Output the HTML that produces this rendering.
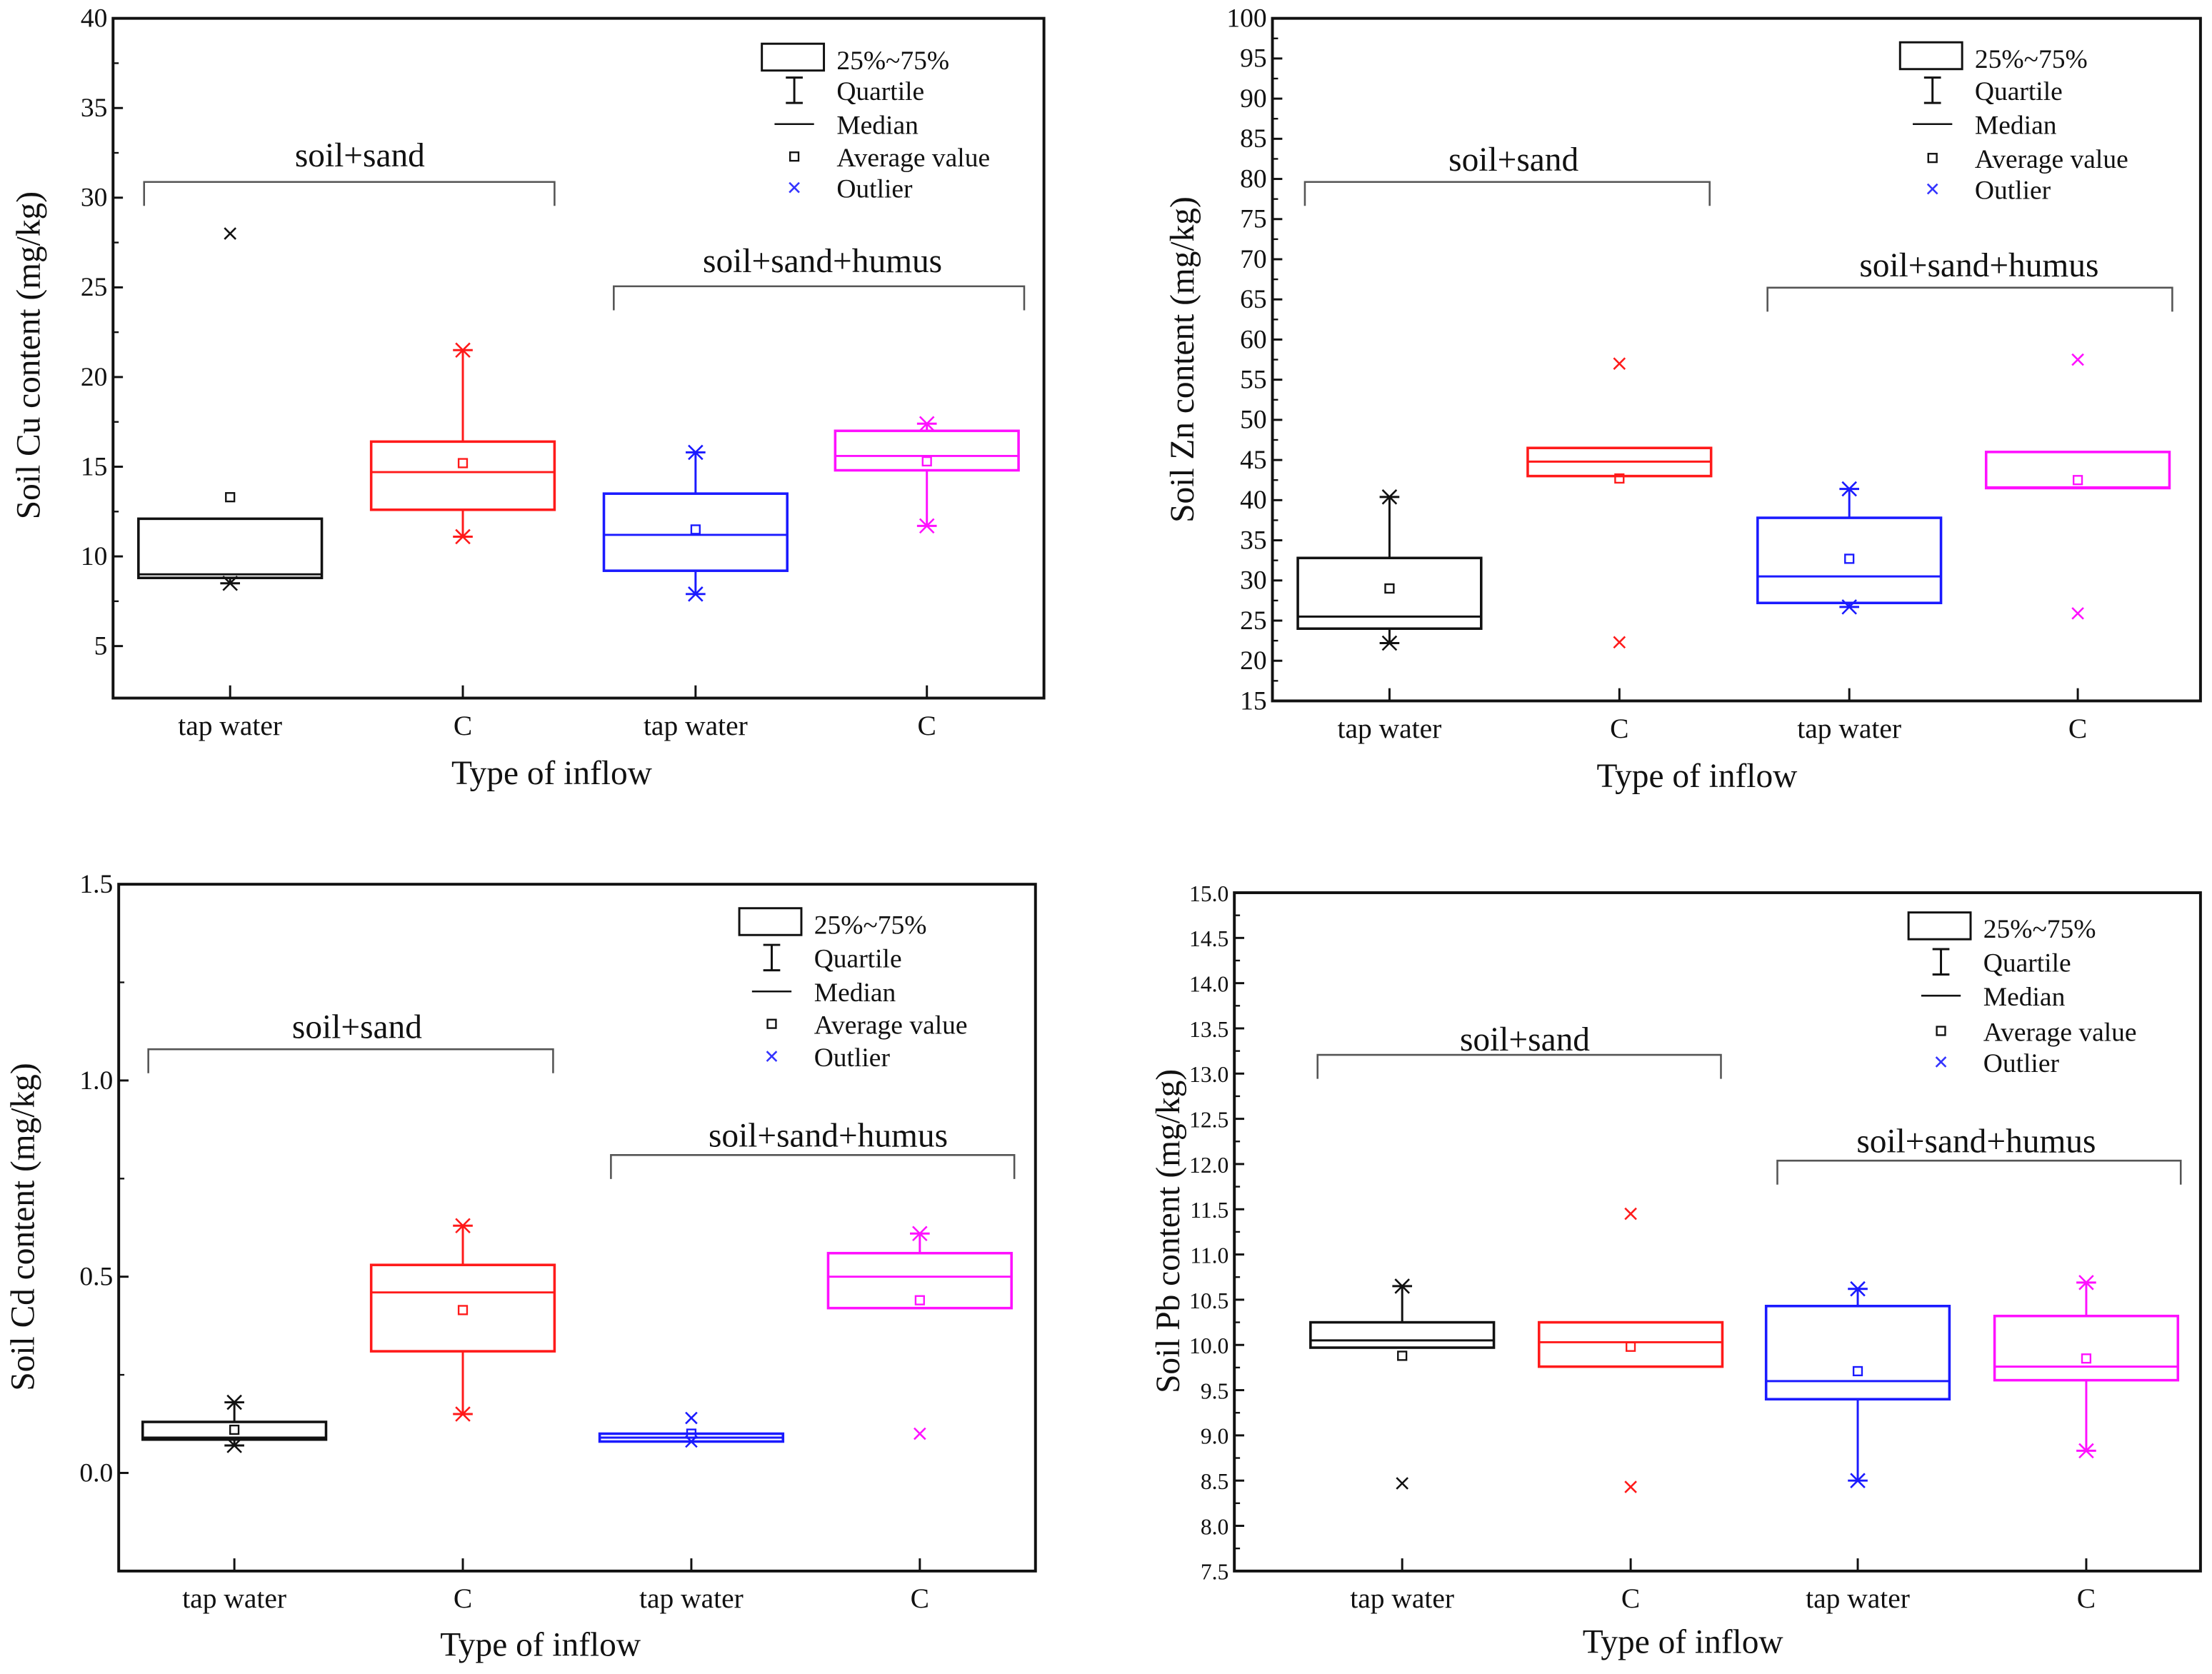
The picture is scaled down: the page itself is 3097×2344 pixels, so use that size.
<!DOCTYPE html>
<html><head><meta charset="utf-8"><style>
html,body{margin:0;padding:0;background:#fff}
svg{display:block}
text{font-family:"Liberation Serif",serif;fill:#111}
</style></head><body>
<svg id="fig" width="3097" height="2344" viewBox="0 0 1568 1187" xmlns="http://www.w3.org/2000/svg"></svg>
<script>
const categories=["tap water","C","tap water","C"];
const colors=["#111","#ff1a1a","#1a1aff","#ff10ff"];

const cuQ1=[8.8,12.6,9.2,14.8], cuQ3=[12.1,16.4,13.5,17.0], cuMed=[9.0,14.7,11.2,15.6], cuMean=[13.3,15.2,11.5,15.3];
const cuLo=[8.5,11.1,7.9,11.7], cuHi=[null,21.5,15.8,17.4], cuOut=[[28],[],[],[]];
const cuTicks=[5,10,15,20,25,30,35,40];

const znQ1=[24,43,27.2,41.5], znQ3=[32.8,46.5,37.8,46], znMed=[25.5,44.8,30.5,41.6], znMean=[29,42.7,32.7,42.5];
const znLo=[22.2,null,26.7,null], znHi=[40.4,null,41.4,null], znOut=[[],[57,22.3],[],[57.5,25.9]];
const znTicks=[15,20,25,30,35,40,45,50,55,60,65,70,75,80,85,90,95,100];

const cdQ1=[0.085,0.31,0.08,0.42], cdQ3=[0.13,0.53,0.10,0.56], cdMed=[0.09,0.46,0.09,0.50], cdMean=[0.11,0.415,0.10,0.44];
const cdLo=[0.07,0.15,null,null], cdHi=[0.18,0.63,null,0.61], cdOut=[[],[],[0.08,0.14],[0.10]];
const cdTicks=[0.0,0.5,1.0,1.5];

const pbQ1=[9.97,9.76,9.4,9.61], pbQ3=[10.25,10.25,10.43,10.32], pbMed=[10.05,10.03,9.6,9.76], pbMean=[9.88,9.98,9.71,9.85];
const pbLo=[null,null,8.5,8.83], pbHi=[10.65,null,10.62,10.69], pbOut=[[8.47],[11.45,8.43],[],[]];
const pbTicks=[7.5,8.0,8.5,9.0,9.5,10.0,10.5,11.0,11.5,12.0,12.5,13.0,13.5,14.0,14.5,15.0];

const NS="http://www.w3.org/2000/svg";
const svg=document.getElementById("fig");
function mk(tag,attrs,parent,txt){const e=document.createElementNS(NS,tag);for(const k in attrs)e.setAttribute(k,attrs[k]);if(txt!==undefined)e.textContent=txt;(parent||svg).appendChild(e);return e;}

function panel(p){
  const g=mk("g",{});
  
  
  const y=v=>p.y0+(p.vmax-v)/(p.vmax-p.vmin)*(p.y1-p.y0);
  p.ticks.forEach((t,i)=>{
    const yy=y(t);
    const tk=mk("line",{x1:p.x0,x2:p.x0+7,y1:yy,y2:yy,stroke:"#111","stroke-width":1.5},g);
    
    
    const lb=mk("text",{x:p.x0-4,y:yy+6,"text-anchor":"end","font-size":p.tf||19},g,p.fmt(t));
    
    
    if(i<p.ticks.length-1){const ym=y((t+p.ticks[i+1])/2);mk("line",{x1:p.x0,x2:p.x0+4,y1:ym,y2:ym,stroke:"#111","stroke-width":1.2},g);}
  });
  const ax=mk("rect",{x:p.x0,y:p.y0,width:p.x1-p.x0,height:p.y1-p.y0,fill:"none",stroke:"#111","stroke-width":2},g);
  
  
  const hw=65;
  categories.forEach((c,i)=>{
    const cx=p.cx[i],col=colors[i];
    mk("line",{x1:cx,x2:cx,y1:p.y1,y2:p.y1-9,stroke:"#111","stroke-width":1.5},g);
    const xl=mk("text",{x:cx,y:p.y1+26,"text-anchor":"middle","font-size":20},g,c);
    
    
    const bg=mk("g",{},g);
    
    
    if(p.hi[i]!==null){mk("line",{x1:cx,x2:cx,y1:y(p.q3[i]),y2:y(p.hi[i]),stroke:col,"stroke-width":1.5},bg);mk("line",{x1:cx-7,x2:cx+7,y1:y(p.hi[i]),y2:y(p.hi[i]),stroke:col,"stroke-width":1.5},bg);mark(bg,cx,y(p.hi[i]),col,5);}
    if(p.lo[i]!==null){mk("line",{x1:cx,x2:cx,y1:y(p.q1[i]),y2:y(p.lo[i]),stroke:col,"stroke-width":1.5},bg);mk("line",{x1:cx-7,x2:cx+7,y1:y(p.lo[i]),y2:y(p.lo[i]),stroke:col,"stroke-width":1.5},bg);mark(bg,cx,y(p.lo[i]),col,5);}
    mk("rect",{x:cx-hw,y:y(p.q3[i]),width:2*hw,height:y(p.q1[i])-y(p.q3[i]),fill:"none",stroke:col,"stroke-width":1.8},bg);
    mk("line",{x1:cx-hw,x2:cx+hw,y1:y(p.med[i]),y2:y(p.med[i]),stroke:col,"stroke-width":1.5},bg);
    mk("rect",{x:cx-3,y:y(p.mean[i])-3,width:6,height:6,fill:"none",stroke:col,"stroke-width":1.2},bg);
    p.out[i].forEach(v=>mark(bg,cx,y(v),col,4));
  });
  p.br.forEach(b=>{
    const bk=mk("path",{d:`M${b[0]} ${b[2]+17}V${b[2]}H${b[1]}V${b[2]+17}`,fill:"none",stroke:"#555","stroke-width":1.3},g);
    
    
    const bt=mk("text",{x:b[3],y:b[4],"text-anchor":"middle","font-size":24},g,b[5]);
    
    
  });
  const L=p.leg, lg=mk("g",{},g);
  
  
  const ix=L.x-30;
  mk("rect",{x:L.x-53,y:L.ys[0]-11,width:44,height:19,fill:"none",stroke:"#111","stroke-width":1.5},lg);
  mk("path",{d:`M${ix-6} ${L.ys[1]-9}H${ix+6}M${ix} ${L.ys[1]-9}V${L.ys[1]+9}M${ix-6} ${L.ys[1]+9}H${ix+6}`,stroke:"#111","stroke-width":1.5,fill:"none"},lg);
  mk("line",{x1:ix-14,x2:ix+14,y1:L.ys[2],y2:L.ys[2],stroke:"#111","stroke-width":1.3},lg);
  mk("rect",{x:ix-3,y:L.ys[3]-3,width:6,height:6,fill:"none",stroke:"#111","stroke-width":1.2},lg);
  mark(lg,ix,L.ys[4],"#33f",3.5);
  ["25%~75%","Quartile","Median","Average value","Outlier"].forEach((t,k)=>{
    const lt=mk("text",{x:L.x,y:L.ys[k]+7,"font-size":19},lg,t);
    
    
  });
  const xt=mk("text",{x:p.xt[0],y:p.xt[1],"text-anchor":"middle","font-size":24},g,"Type of inflow");
  
  
  const yt=mk("text",{x:0,y:0,"text-anchor":"middle","font-size":24,transform:`translate(${p.yt[0]},${p.yt[1]}) rotate(-90)`},g,p.ytitle);
  
  
}
function mark(parent,x,y,col,s){
  mk("path",{d:`M${x-s} ${y-s}L${x+s} ${y+s}M${x-s} ${y+s}L${x+s} ${y-s}`,stroke:col,"stroke-width":1.3,fill:"none"},parent);
}
const f0=t=>String(t), f1=t=>t.toFixed(1);
panel({id:"cu",x0:80,x1:740,y0:13,y1:495,vmin:2.1,vmax:40,ticks:cuTicks,fmt:f0,cx:[163,328,493,657],
 q1:cuQ1,q3:cuQ3,med:cuMed,mean:cuMean,lo:cuLo,hi:cuHi,out:cuOut,
 br:[[102,393,129,255,118,"soil+sand"],[435,726,203,583,193,"soil+sand+humus"]],
 leg:{x:593,ys:[42,64,88,111,133]},xt:[391,556],yt:[28,252],ytitle:"Soil Cu content (mg/kg)"});
panel({id:"zn",x0:902,x1:1560,y0:13,y1:497,vmin:15,vmax:100,ticks:znTicks,fmt:f0,cx:[985,1148,1311,1473],
 q1:znQ1,q3:znQ3,med:znMed,mean:znMean,lo:znLo,hi:znHi,out:znOut,
 br:[[925,1212,129,1073,121,"soil+sand"],[1253,1540,204,1403,196,"soil+sand+humus"]],
 leg:{x:1400,ys:[41,64,88,112,134]},xt:[1203,558],yt:[846,255],ytitle:"Soil Zn content (mg/kg)"});
panel({id:"cd",x0:84,x1:734,y0:627,y1:1114,vmin:-0.25,vmax:1.5,ticks:cdTicks,fmt:f1,cx:[166,328,490,652],
 q1:cdQ1,q3:cdQ3,med:cdMed,mean:cdMean,lo:cdLo,hi:cdHi,out:cdOut,
 br:[[105,392,744,253,736,"soil+sand"],[433,719,819,587,813,"soil+sand+humus"]],
 leg:{x:577,ys:[655,679,703,726,749]},xt:[383,1174],yt:[24,870],ytitle:"Soil Cd content (mg/kg)"});
panel({id:"pb",x0:875,x1:1560,y0:633,y1:1114,vmin:7.5,vmax:15,ticks:pbTicks,fmt:f1,tf:16,cx:[994,1156,1317,1479],
 q1:pbQ1,q3:pbQ3,med:pbMed,mean:pbMean,lo:pbLo,hi:pbHi,out:pbOut,
 br:[[934,1220,748,1081,745,"soil+sand"],[1260,1546,823,1401,817,"soil+sand+humus"]],
 leg:{x:1406,ys:[658,682,706,731,753]},xt:[1193,1172],yt:[836,873],ytitle:"Soil Pb content (mg/kg)"});
</script>
</body></html>
